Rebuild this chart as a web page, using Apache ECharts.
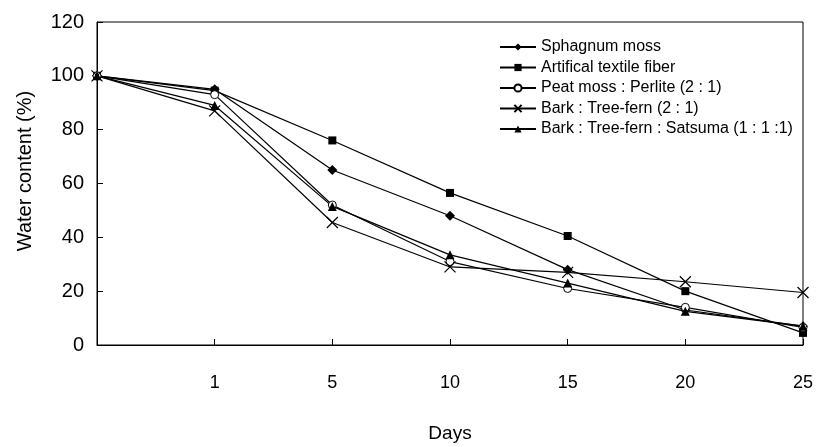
<!DOCTYPE html>
<html>
<head>
<meta charset="utf-8">
<script src="https://cdn.jsdelivr.net/npm/echarts@6/dist/echarts.min.js"></script>
<style>
  html, body { margin: 0; padding: 0; background: #fff; }
  #main { width: 817px; height: 447px; }
</style>
</head>
<body>
<div id="main"></div>
<script>
  // days (first one, day 0, has no label in the original)
  var days = ['', '1', '5', '10', '15', '20', '25'];
  var yTicks = [0, 20, 40, 60, 80, 100, 120];

  var sphagnum = [100, 95, 65, 48, 28, 13, 7];
  var textile = [100, 94.5, 76, 56.5, 40.5, 20, 4.5];
  var peatPerlite = [100, 93, 52, 31, 21, 14, 6.5];
  var barkFern = [100, 87, 45.5, 29, 27, 23.5, 19.5];
  var barkFernSatsuma = [100, 89, 51.5, 33.5, 23, 12.5, 7];

  var chart = echarts.init(document.getElementById('main'));

  var font = 'Liberation Sans, Arial, sans-serif';

  function lineSeries(name, data, symbol, size, itemStyle) {
    return {
      name: name,
      type: 'line',
      data: data,
      symbol: symbol,
      symbolSize: size,
      showSymbol: true,
      clip: false,
      lineStyle: { color: '#000', width: 1.2 },
      itemStyle: itemStyle,
      emphasis: { disabled: true }
    };
  }

  var option = {
    animation: false,
    backgroundColor: '#fff',
    grid: {
      left: 97,
      right: 14,
      top: 22,
      bottom: 102,
      outerBoundsMode: 'none',
      containLabel: false,
      show: true,
      borderColor: '#000',
      borderWidth: 1
    },
    legend: {
      orient: 'vertical',
      left: 494,
      top: 34,
      itemWidth: 36,
      itemHeight: 9,
      itemGap: 4.5,
      textStyle: { fontFamily: font, fontSize: 16, color: '#000' },
      data: ['Sphagnum moss', 'Artifical textile fiber', 'Peat moss : Perlite (2 : 1)',
             'Bark : Tree-fern (2 : 1)', 'Bark : Tree-fern : Satsuma (1 : 1 :1)']
    },
    xAxis: {
      type: 'category',
      data: days,
      boundaryGap: false,
      name: 'Days',
      nameLocation: 'middle',
      nameGap: 79,
      nameTextStyle: { fontFamily: font, fontSize: 19, color: '#000' },
      axisLine: { lineStyle: { color: '#000', width: 1 } },
      axisTick: { inside: true, length: 6, lineStyle: { color: '#000' } },
      axisLabel: { fontFamily: font, fontSize: 18, color: '#000', margin: 29 },
      splitLine: { show: false }
    },
    yAxis: {
      type: 'value',
      min: yTicks[0],
      max: yTicks[yTicks.length - 1],
      interval: 20,
      name: 'Water content (%)',
      nameLocation: 'middle',
      nameGap: 62,
      nameTextStyle: { fontFamily: font, fontSize: 20, color: '#000', padding: [0, 0, 0, 25] },
      axisLine: { show: true, lineStyle: { color: '#000', width: 1 } },
      axisTick: { show: true, inside: true, length: 6, lineStyle: { color: '#000' } },
      axisLabel: { fontFamily: font, fontSize: 20, color: '#000', margin: 13 },
      splitLine: { show: false }
    },
    series: [
      lineSeries('Sphagnum moss', sphagnum, 'diamond', 10, { color: '#000' }),
      lineSeries('Artifical textile fiber', textile, 'rect', 8, { color: '#000' }),
      lineSeries('Peat moss : Perlite (2 : 1)', peatPerlite, 'circle', 8,
        { color: '#fff', borderColor: '#000', borderWidth: 1 }),
      lineSeries('Bark : Tree-fern (2 : 1)', barkFern, 'path://M0,0L10,10M10,0L0,10', 11,
        { color: '#000', borderColor: '#000', borderWidth: 1.2 }),
      lineSeries('Bark : Tree-fern : Satsuma (1 : 1 :1)', barkFernSatsuma, 'triangle', 9, { color: '#000' })
    ]
  };

  option && chart.setOption(option);
</script>
</body>
</html>
